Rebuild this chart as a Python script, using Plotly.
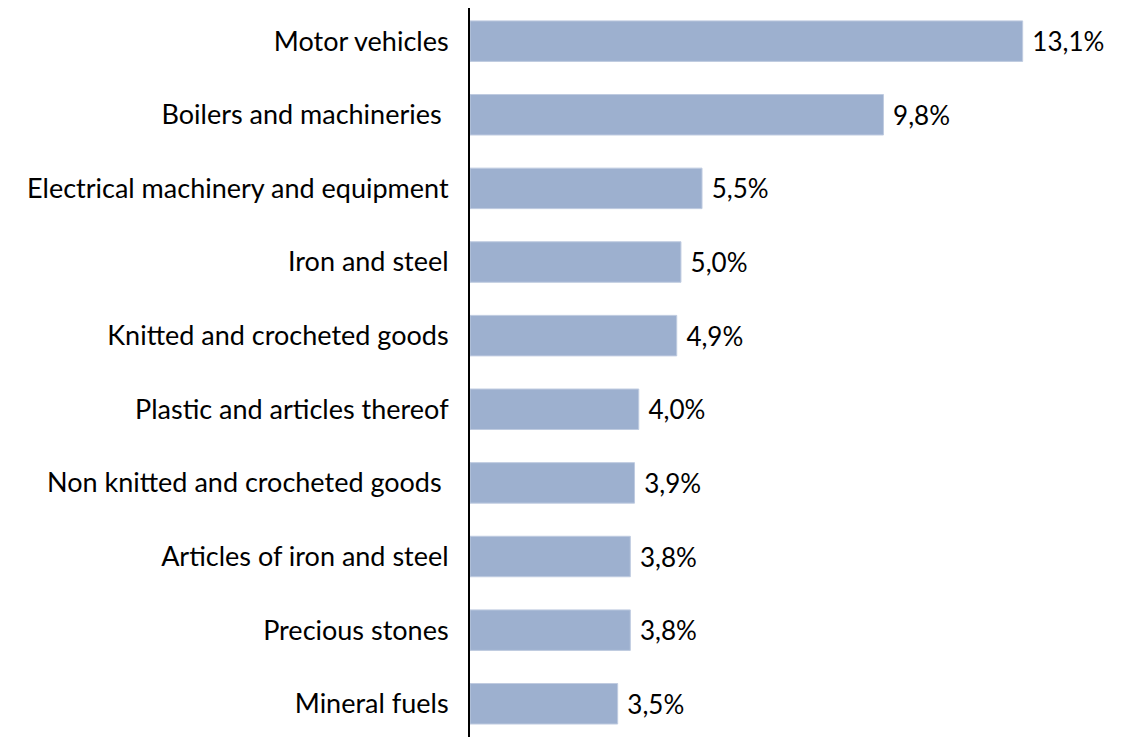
import plotly.graph_objects as go

categories = [
    "Motor vehicles",
    "Boilers and machineries ",
    "Electrical machinery and equipment",
    "Iron and steel",
    "Knitted and crocheted goods",
    "Plastic and articles thereof",
    "Non knitted and crocheted goods ",
    "Articles of iron and steel",
    "Precious stones",
    "Mineral fuels",
]
shares = [13.1, 9.8, 5.5, 5.0, 4.9, 4.0, 3.9, 3.8, 3.8, 3.5]
share_labels = ["\u00a0" + f"{v:.1f}".replace(".", ",") + "%" for v in shares]

BAR_COLOR = "#9DB0CF"
FONT = "Lato"

fig = go.Figure(go.Bar(
    x=shares,
    y=categories,
    orientation="h",
    marker=dict(color=BAR_COLOR, line=dict(color="#BFCBE0", width=1)),
    width=0.55,
    text=share_labels,
    textposition="outside",
    textfont=dict(size=26, color="#000000", family=FONT),
    cliponaxis=False,
))

fig.update_layout(
    width=1137, height=737,
    margin=dict(l=462, r=0, t=0, b=0),
    paper_bgcolor="white", plot_bgcolor="white",
    showlegend=False,
    font=dict(family=FONT, size=27, color="#000000"),
    xaxis=dict(range=[0, 16.0], visible=False, showgrid=False, zeroline=False,
               automargin=False),
    yaxis=dict(
        range=[9.56, -0.45], automargin=False,
        showline=True, linecolor="#000000", linewidth=2,
        ticks="", showgrid=False,
        ticklabelstandoff=14,
        tickfont=dict(size=27, color="#000000", family=FONT),
    ),
)

fig.write_html("out.html")
